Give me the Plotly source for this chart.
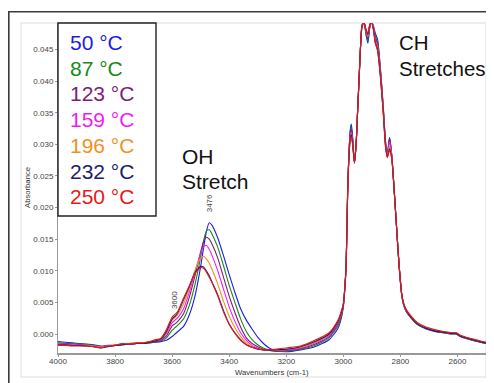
import plotly.graph_objects as go

# ---------------- data ----------------
wavenumber = [
    4000, 3975, 3950, 3925, 3900, 3875, 3850, 3825, 3800, 3775, 3750, 3725, 3700, 3680, 3660,
    3640, 3620, 3600, 3590, 3580, 3560, 3540, 3520, 3500, 3490, 3480, 3470, 3460,
    3440, 3420, 3400, 3380, 3360, 3340, 3320, 3300, 3280, 3260, 3240, 3200, 3150, 3100, 3050, 3020, 3010, 3000,
    2995, 2990, 2985, 2980, 2975, 2972, 2967, 2961, 2955, 2950, 2945, 2940, 2935, 2928, 2920, 2914, 2908,
    2902, 2895, 2888, 2880, 2870, 2860, 2852, 2846, 2838, 2830, 2824, 2815, 2805, 2795, 2788, 2780,
    2760, 2740, 2710, 2680, 2650, 2620, 2604, 2590, 2570, 2546, 2520, 2500,
]

abs_50C = [
    -0.0012, -0.0013, -0.0014, -0.0015, -0.0016, -0.0017, -0.0019, -0.0018, -0.0018, -0.0017, -0.0016, -0.0015, -0.0015, -0.0014, -0.0013,
    -0.0012, -0.0010, -0.0004, 0.0000, 0.0004, 0.0012, 0.0030, 0.0060, 0.0107, 0.0136, 0.0162, 0.0176, 0.0172,
    0.0152, 0.0124, 0.0094, 0.0066, 0.0040, 0.0022, 0.0008, -0.0005, -0.0015, -0.0022, -0.0026, -0.0028, -0.0025, -0.0020, -0.0009, 0.0008, 0.0020, 0.0042,
    0.0070, 0.0110, 0.0225, 0.0292, 0.0326, 0.0332, 0.0310, 0.0270, 0.0300, 0.0350, 0.0400, 0.0450, 0.0484, 0.0494, 0.0472, 0.0460, 0.0482,
    0.0494, 0.0488, 0.0476, 0.0466, 0.0420, 0.0360, 0.0305, 0.0283, 0.0311, 0.0282, 0.0244, 0.0180, 0.0110, 0.0060, 0.0045, 0.0036,
    0.0024, 0.0015, 0.0008, 0.0004, 0.0002, 0.0000, 0.0000, -0.0004, -0.0007, -0.0010, -0.0013, -0.0015,
]
abs_87C = [
    -0.0014, -0.0015, -0.0016, -0.0016, -0.0017, -0.0018, -0.0020, -0.0019, -0.0018, -0.0017, -0.0016, -0.0015, -0.0015, -0.0014, -0.0013,
    -0.0011, -0.0006, 0.0006, 0.0010, 0.0014, 0.0024, 0.0045, 0.0078, 0.0122, 0.0147, 0.0163, 0.0165, 0.0158,
    0.0137, 0.0108, 0.0077, 0.0050, 0.0024, 0.0004, -0.0009, -0.0017, -0.0022, -0.0025, -0.0027, -0.0027, -0.0024, -0.0018, -0.0006, 0.0012, 0.0023, 0.0044,
    0.0070, 0.0110, 0.0224, 0.0290, 0.0323, 0.0328, 0.0307, 0.0271, 0.0301, 0.0351, 0.0401, 0.0451, 0.0485, 0.0494, 0.0474, 0.0464, 0.0484,
    0.0494, 0.0487, 0.0472, 0.0462, 0.0418, 0.0358, 0.0303, 0.0283, 0.0311, 0.0282, 0.0244, 0.0180, 0.0110, 0.0060, 0.0045, 0.0036,
    0.0024, 0.0015, 0.0009, 0.0005, 0.0002, 0.0000, 0.0000, -0.0004, -0.0007, -0.0010, -0.0013, -0.0015,
]
abs_123C = [
    -0.0015, -0.0016, -0.0016, -0.0017, -0.0018, -0.0019, -0.0021, -0.0019, -0.0018, -0.0016, -0.0016, -0.0015, -0.0014, -0.0013, -0.0012,
    -0.0010, -0.0003, 0.0013, 0.0016, 0.0020, 0.0032, 0.0058, 0.0092, 0.0130, 0.0146, 0.0153, 0.0150, 0.0142,
    0.0120, 0.0090, 0.0060, 0.0034, 0.0011, -0.0006, -0.0015, -0.0020, -0.0024, -0.0026, -0.0027, -0.0026, -0.0023, -0.0016, -0.0004, 0.0015, 0.0026, 0.0045,
    0.0071, 0.0111, 0.0223, 0.0288, 0.0320, 0.0324, 0.0305, 0.0271, 0.0302, 0.0352, 0.0402, 0.0452, 0.0486, 0.0494, 0.0476, 0.0467, 0.0485,
    0.0494, 0.0486, 0.0469, 0.0458, 0.0415, 0.0356, 0.0302, 0.0282, 0.0310, 0.0281, 0.0243, 0.0180, 0.0111, 0.0061, 0.0046, 0.0037,
    0.0025, 0.0016, 0.0009, 0.0005, 0.0003, 0.0001, 0.0001, -0.0003, -0.0006, -0.0009, -0.0012, -0.0014,
]
abs_159C = [
    -0.0016, -0.0016, -0.0017, -0.0017, -0.0018, -0.0019, -0.0020, -0.0019, -0.0018, -0.0016, -0.0015, -0.0014, -0.0014, -0.0013, -0.0011,
    -0.0009, 0.0001, 0.0018, 0.0022, 0.0026, 0.0040, 0.0066, 0.0098, 0.0128, 0.0138, 0.0140, 0.0134, 0.0124,
    0.0100, 0.0071, 0.0043, 0.0020, 0.0002, -0.0010, -0.0018, -0.0022, -0.0025, -0.0026, -0.0026, -0.0025, -0.0022, -0.0014, -0.0002, 0.0017, 0.0028, 0.0046,
    0.0071, 0.0111, 0.0222, 0.0286, 0.0317, 0.0320, 0.0302, 0.0271, 0.0302, 0.0352, 0.0402, 0.0452, 0.0486, 0.0494, 0.0478, 0.0470, 0.0486,
    0.0494, 0.0485, 0.0466, 0.0455, 0.0412, 0.0354, 0.0300, 0.0281, 0.0304, 0.0280, 0.0243, 0.0180, 0.0111, 0.0061, 0.0046, 0.0037,
    0.0025, 0.0016, 0.0010, 0.0006, 0.0003, 0.0001, 0.0001, -0.0003, -0.0006, -0.0009, -0.0012, -0.0014,
]
abs_196C = [
    -0.0016, -0.0017, -0.0017, -0.0018, -0.0018, -0.0019, -0.0021, -0.0019, -0.0017, -0.0016, -0.0015, -0.0014, -0.0014, -0.0012, -0.0010,
    -0.0008, 0.0003, 0.0022, 0.0026, 0.0031, 0.0048, 0.0072, 0.0101, 0.0120, 0.0123, 0.0119, 0.0112, 0.0102,
    0.0079, 0.0052, 0.0028, 0.0010, -0.0004, -0.0014, -0.0020, -0.0023, -0.0025, -0.0026, -0.0026, -0.0024, -0.0021, -0.0013, 0.0000, 0.0019, 0.0029, 0.0047,
    0.0072, 0.0112, 0.0221, 0.0284, 0.0313, 0.0316, 0.0300, 0.0271, 0.0303, 0.0353, 0.0403, 0.0453, 0.0487, 0.0494, 0.0479, 0.0472, 0.0487,
    0.0494, 0.0484, 0.0463, 0.0452, 0.0410, 0.0352, 0.0298, 0.0280, 0.0297, 0.0278, 0.0242, 0.0180, 0.0112, 0.0062, 0.0047, 0.0038,
    0.0026, 0.0017, 0.0010, 0.0006, 0.0004, 0.0002, 0.0002, -0.0002, -0.0005, -0.0008, -0.0011, -0.0013,
]
abs_232C = [
    -0.0017, -0.0017, -0.0018, -0.0018, -0.0019, -0.0020, -0.0022, -0.0020, -0.0018, -0.0017, -0.0016, -0.0015, -0.0015, -0.0013, -0.0011,
    -0.0008, 0.0004, 0.0024, 0.0028, 0.0034, 0.0054, 0.0075, 0.0097, 0.0107, 0.0106, 0.0100, 0.0092, 0.0082,
    0.0062, 0.0037, 0.0016, 0.0002, -0.0009, -0.0017, -0.0021, -0.0024, -0.0025, -0.0026, -0.0025, -0.0024, -0.0020, -0.0012, 0.0000, 0.0019, 0.0030, 0.0047,
    0.0072, 0.0112, 0.0221, 0.0283, 0.0312, 0.0315, 0.0299, 0.0271, 0.0303, 0.0353, 0.0403, 0.0453, 0.0487, 0.0494, 0.0480, 0.0474, 0.0488,
    0.0494, 0.0483, 0.0461, 0.0450, 0.0408, 0.0350, 0.0297, 0.0280, 0.0293, 0.0277, 0.0242, 0.0180, 0.0112, 0.0062, 0.0047, 0.0038,
    0.0025, 0.0016, 0.0009, 0.0005, 0.0003, 0.0001, 0.0001, -0.0003, -0.0006, -0.0009, -0.0012, -0.0014,
]
abs_250C = [
    -0.0018, -0.0018, -0.0019, -0.0019, -0.0019, -0.0020, -0.0022, -0.0019, -0.0018, -0.0015, -0.0016, -0.0014, -0.0014, -0.0012, -0.0009,
    -0.0007, 0.0007, 0.0027, 0.0031, 0.0036, 0.0057, 0.0076, 0.0096, 0.0105, 0.0104, 0.0098, 0.0090, 0.0081,
    0.0060, 0.0035, 0.0015, 0.0001, -0.0010, -0.0017, -0.0021, -0.0023, -0.0025, -0.0025, -0.0024, -0.0022, -0.0019, -0.0010, 0.0002, 0.0021, 0.0032, 0.0048,
    0.0073, 0.0113, 0.0220, 0.0282, 0.0310, 0.0312, 0.0297, 0.0271, 0.0303, 0.0353, 0.0403, 0.0453, 0.0487, 0.0494, 0.0481, 0.0476, 0.0488,
    0.0494, 0.0482, 0.0460, 0.0448, 0.0406, 0.0348, 0.0295, 0.0279, 0.0290, 0.0276, 0.0241, 0.0180, 0.0113, 0.0063, 0.0048, 0.0039,
    0.0027, 0.0018, 0.0011, 0.0007, 0.0004, 0.0002, 0.0002, -0.0002, -0.0005, -0.0008, -0.0011, -0.0013,
]

series_values = [abs_50C, abs_87C, abs_123C, abs_159C, abs_196C, abs_232C, abs_250C]
temperature_labels = ["50 °C", "87 °C", "123 °C", "159 °C", "196 °C", "232 °C", "250 °C"]
series_colors = ["#1c1ce8", "#178a17", "#7c1c7c", "#f01cf0", "#f2901e", "#1c1c6e", "#e81818"]

x_tick_values = [4000, 3800, 3600, 3400, 3200, 3000, 2800, 2600]
y_tick_values = [0.000, 0.005, 0.010, 0.015, 0.020, 0.025, 0.030, 0.035, 0.040, 0.045]
peak_label_values = [3476, 3600]
region_labels = [("OH", "Stretch"), ("CH", "Stretches")]

for s in series_values:
    assert len(s) == len(wavenumber)

# ---------------- layout helpers ----------------
# The page body has an 8 px default margin, so the figure starts at (8, 8)
# of the window; positions below are given in window pixels.
OFF = 8
W, H = 494 - OFF, 383 - OFF
L, R, T, B = 58, 486, 23, 353          # plot area in window pixels
PW, PH = R - L, B - T


def px(x):
    return (x - L) / PW


def py(y):
    return (B - y) / PH


FONT = "Liberation Sans, Arial, sans-serif"

fig = go.Figure()
for vals, name, col in zip(series_values, temperature_labels, series_colors):
    fig.add_trace(go.Scatter(
        x=wavenumber, y=vals, mode="lines", name=name,
        line=dict(color=col, width=1.1, shape="spline", smoothing=0.6),
        showlegend=False, hoverinfo="skip",
    ))

shapes = [
    # outer dark frame (runs off the image at right and bottom)
    dict(type="rect", xref="paper", yref="paper", x0=px(8.8), y0=py(392), x1=px(500), y1=py(11.8),
         line=dict(color="#3a3a3a", width=1.6), fillcolor="rgba(0,0,0,0)", layer="above"),
    # inner light frame
    dict(type="rect", xref="paper", yref="paper", x0=px(21), y0=py(377), x1=px(486), y1=py(23),
         line=dict(color="#dddddd", width=1), fillcolor="rgba(0,0,0,0)", layer="below"),
    # legend box
    dict(type="rect", xref="paper", yref="paper", x0=px(58), y0=py(216), x1=px(156), y1=py(23),
         line=dict(color="#222222", width=1.4), fillcolor="white", layer="above"),
]

annotations = []
leg_top = 42.5
leg_step = 25.7
for i, (name, col) in enumerate(zip(temperature_labels, series_colors)):
    annotations.append(dict(
        x=px(68), y=py(leg_top + i * leg_step), xref="paper", yref="paper",
        xanchor="left", yanchor="middle", showarrow=False, text=name,
        font=dict(family=FONT, size=21, color=col),
    ))

# region labels
for (l1, l2), (xl, y1, y2, fs) in zip(region_labels, [(180, 156, 181, 21), (397, 42, 68, 20.5)]):
    for txt, yy in ((l1, y1), (l2, y2)):
        annotations.append(dict(
            x=px(xl), y=py(yy), xref="paper", yref="paper",
            xanchor="left", yanchor="middle", showarrow=False, text=txt,
            font=dict(family=FONT, size=fs, color="#111111"),
        ))

# peak labels (rotated)
oh_region = [v for w, v in zip(wavenumber, abs_50C) if w > 3200]
idx_3600 = wavenumber.index(3600)
annotations.append(dict(
    x=peak_label_values[0], y=max(oh_region), xref="x", yref="y",
    xanchor="center", yanchor="bottom", yshift=8, xshift=2, showarrow=False,
    text=str(peak_label_values[0]), textangle=-90,
    font=dict(family=FONT, size=8, color="#444444"),
))
annotations.append(dict(
    x=peak_label_values[1], y=abs_250C[idx_3600], xref="x", yref="y",
    xanchor="center", yanchor="bottom", yshift=6, xshift=3, showarrow=False,
    text=str(peak_label_values[1]), textangle=-90,
    font=dict(family=FONT, size=8, color="#444444"),
))

# axis titles
annotations.append(dict(
    x=px(272), y=py(372), xref="paper", yref="paper", xanchor="center", yanchor="middle",
    showarrow=False, text="Wavenumbers (cm-1)", font=dict(family=FONT, size=7.7, color="#333333"),
))
annotations.append(dict(
    x=px(27), y=py(188), xref="paper", yref="paper", xanchor="center", yanchor="middle",
    showarrow=False, text="Absorbance", textangle=-90, font=dict(family=FONT, size=7.7, color="#333333"),
))

fig.update_layout(
    width=W, height=H,
    margin=dict(l=L - OFF, r=W - (R - OFF), t=T - OFF, b=H - (B - OFF), pad=0),
    paper_bgcolor="white", plot_bgcolor="white",
    font=dict(family=FONT, size=8, color="#444444"),
    shapes=shapes, annotations=annotations,
    showlegend=False,
)
fig.update_xaxes(
    range=[4000, 2500], tickvals=x_tick_values, ticktext=[str(v) for v in x_tick_values],
    showgrid=False, zeroline=False, showline=True, linecolor="#999999", linewidth=1.6,
    ticks="outside", ticklen=2, tickcolor="#999999", ticklabelstandoff=-2,
    tickfont=dict(family=FONT, size=8, color="#444444"),
)
fig.update_yaxes(
    range=[-0.003, 0.0492], tickvals=y_tick_values, ticktext=[f"{v:.3f}" for v in y_tick_values],
    showgrid=False, zeroline=False, showline=True, linecolor="#999999", linewidth=1,
    ticks="outside", ticklen=2, tickcolor="#999999",
    tickfont=dict(family=FONT, size=8, color="#444444"),
)

fig.write_html("out.html")
